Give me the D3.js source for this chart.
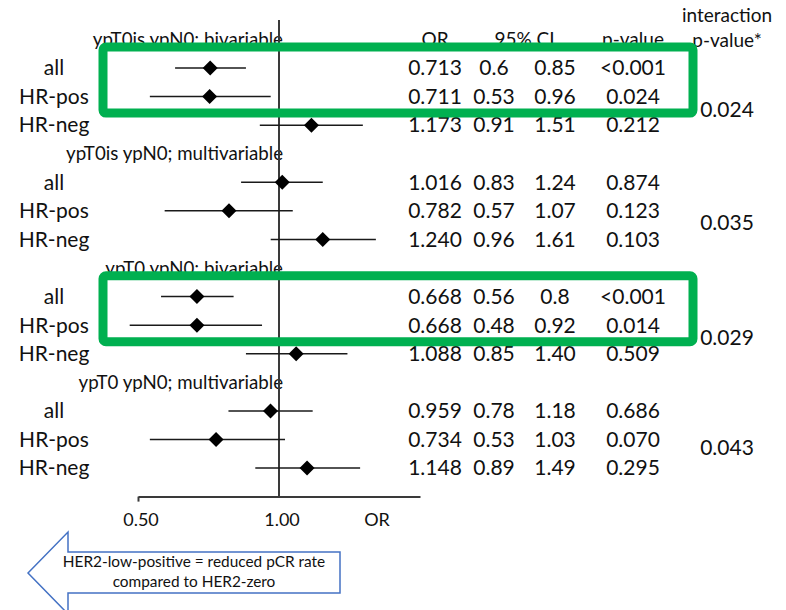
<!DOCTYPE html>
<html>
<head>
<meta charset="utf-8">
<script src="https://cdn.jsdelivr.net/npm/d3@7"></script>
<style>
  html, body { margin: 0; padding: 0; background: #fff; }
  svg { display: block; font-family: Lato, "Open Sans", sans-serif; }
</style>
</head>
<body>
<svg id="chart" width="786" height="610"></svg>
<script>
// Odds ratios of pCR, HER2-low-positive vs HER2-zero
const sections = [
  "ypT0is ypN0; bivariable",
  "ypT0is ypN0; multivariable",
  "ypT0 ypN0; bivariable",
  "ypT0 ypN0; multivariable"
];
const subgroups = ["all", "HR-pos", "HR-neg"];
const orValues = [
  ["0.713", "0.711", "1.173"],
  ["1.016", "0.782", "1.240"],
  ["0.668", "0.668", "1.088"],
  ["0.959", "0.734", "1.148"]
];
const ciLower = [
  ["0.6", "0.53", "0.91"],
  ["0.83", "0.57", "0.96"],
  ["0.56", "0.48", "0.85"],
  ["0.78", "0.53", "0.89"]
];
const ciUpper = [
  ["0.85", "0.96", "1.51"],
  ["1.24", "1.07", "1.61"],
  ["0.8", "0.92", "1.40"],
  ["1.18", "1.03", "1.49"]
];
const pValues = [
  ["<0.001", "0.024", "0.212"],
  ["0.874", "0.123", "0.103"],
  ["<0.001", "0.014", "0.509"],
  ["0.686", "0.070", "0.295"]
];
const interactionP = ["0.024", "0.035", "0.029", "0.043"];
const boxedSections = [0, 2];          // "all" and "HR-pos" rows framed in green
const axisTicks = [0.5, 1.0];
const axisTitle = "OR";
const columnHeads = ["OR", "95% CI", "p-value"];
const interactionHead = ["interaction", "p-value*"];
const arrowText = ["HER2-low-positive = reduced pCR rate", "compared to HER2-zero"];

// ---- layout ----
const svg = d3.select("#chart");
const x = d3.scaleLog().domain([0.5, 2]).range([138, 420]);
const y = d3.scaleLinear().domain([0, 16]).range([39.4, 496.6]);
const interactionOffset = [2.47, 2.43, 2.45, 2.27];
const col = { or: 435, lo: 494, hi: 555, p: 633, inter: 727, label: 54 };
const ink = "#111";
const green = "#00B050";

// flatten rows
const rows = [];
sections.forEach((s, si) => {
  subgroups.forEach((g, gi) => {
    rows.push({
      section: si, group: g, idx: si * 4 + 1 + gi,
      or: orValues[si][gi], lo: ciLower[si][gi], hi: ciUpper[si][gi], p: pValues[si][gi]
    });
  });
});

// section headings, right-aligned at the reference line
svg.append("g").selectAll("text").data(sections).join("text")
  .attr("x", x(1) + 4).attr("y", (d, i) => y(i * 4))
  .attr("dy", "0.35em").attr("text-anchor", "end")
  .attr("font-size", 18.7).attr("fill", ink).text(d => d);

// subgroup labels
svg.append("g").selectAll("text").data(rows).join("text")
  .attr("x", col.label).attr("y", d => y(d.idx))
  .attr("dy", "0.35em").attr("text-anchor", "middle")
  .attr("font-size", 21).attr("fill", ink).text(d => d.group);

// axis
const axis = d3.axisBottom(x).tickValues(axisTicks)
  .tickFormat(d3.format(".2f")).tickSizeInner(0).tickSizeOuter(0).tickPadding(17);
const gAxis = svg.append("g").attr("transform", `translate(0,${y(16)})`).call(axis);
gAxis.select(".domain").attr("stroke", "#3a3a3a").attr("stroke-width", 2);
gAxis.selectAll(".tick line").filter(d => d === 0.5)
  .attr("y2", 5).attr("stroke", "#3a3a3a").attr("stroke-width", 2);
gAxis.selectAll(".tick text").attr("font-size", 18).attr("fill", ink)
  .attr("font-family", "Lato, sans-serif").attr("dx", 2.5);
svg.append("text").attr("x", 377).attr("y", y(16) + 17).attr("dy", "0.71em")
  .attr("text-anchor", "middle").attr("font-size", 18).attr("fill", ink).text(axisTitle);

// reference line at OR = 1
svg.append("line").attr("x1", x(1)).attr("x2", x(1))
  .attr("y1", 20).attr("y2", y(16))
  .attr("stroke", "#3a3a3a").attr("stroke-width", 2);

// confidence intervals
svg.append("g").selectAll("line").data(rows).join("line")
  .attr("x1", d => x(+d.lo)).attr("x2", d => x(+d.hi))
  .attr("y1", d => y(d.idx)).attr("y2", d => y(d.idx))
  .attr("stroke", "#1a1a1a").attr("stroke-width", 1.5);

// point estimates
const dm = 7.5;
svg.append("g").selectAll("path").data(rows).join("path")
  .attr("d", d => {
    const cx = x(+d.or), cy = y(d.idx);
    return `M${cx},${cy - dm}L${cx + dm},${cy}L${cx},${cy + dm}L${cx - dm},${cy}Z`;
  })
  .attr("fill", "#000");

// table columns
const table = svg.append("g").attr("font-size", 21).attr("fill", ink).attr("text-anchor", "middle");
[["or", col.or], ["lo", col.lo], ["hi", col.hi], ["p", col.p]].forEach(([k, cx]) => {
  table.append("g").selectAll("text").data(rows).join("text")
    .attr("x", cx).attr("y", d => y(d.idx)).attr("dy", "0.35em").text(d => d[k]);
});
table.append("g").selectAll("text").data(interactionP).join("text")
  .attr("x", col.inter).attr("y", (d, i) => y(i * 4 + interactionOffset[i]))
  .attr("dy", "0.35em").text(d => d);

// column heads
const heads = svg.append("g").attr("font-size", 19).attr("fill", ink).attr("text-anchor", "middle");
heads.selectAll("text.c").data(columnHeads).join("text").attr("class", "c")
  .attr("x", (d, i) => [col.or, (col.lo + col.hi) / 2, col.p][i])
  .attr("y", y(0)).attr("dy", "0.35em").text(d => d);
heads.selectAll("text.i").data(interactionHead).join("text").attr("class", "i")
  .attr("x", col.inter).attr("y", (d, i) => [15, 40][i]).attr("dy", "0.35em").text(d => d);

// highlight frames
svg.append("g").selectAll("rect").data(boxedSections).join("rect")
  .attr("x", 103).attr("width", 590)
  .attr("y", d => y(d * 4 + 0.27))
  .attr("height", d => y(d * 4 + 2.58) - y(d * 4 + 0.27))
  .attr("rx", 3).attr("fill", "none")
  .attr("stroke", green).attr("stroke-width", 9);

// direction arrow
const arrow = svg.append("g");
arrow.append("path")
  .attr("d", "M28,573 L68,532 L68,552 L340,552 L340,593 L68,593 L68,614 Z")
  .attr("fill", "#fff").attr("stroke", "#4472C4").attr("stroke-width", 1.5);
arrow.selectAll("text").data(arrowText).join("text")
  .attr("x", 194).attr("y", (d, i) => 562 + i * 20).attr("dy", "0.35em")
  .attr("text-anchor", "middle").attr("font-size", 15.4).attr("fill", ink).text(d => d);
</script>
</body>
</html>
